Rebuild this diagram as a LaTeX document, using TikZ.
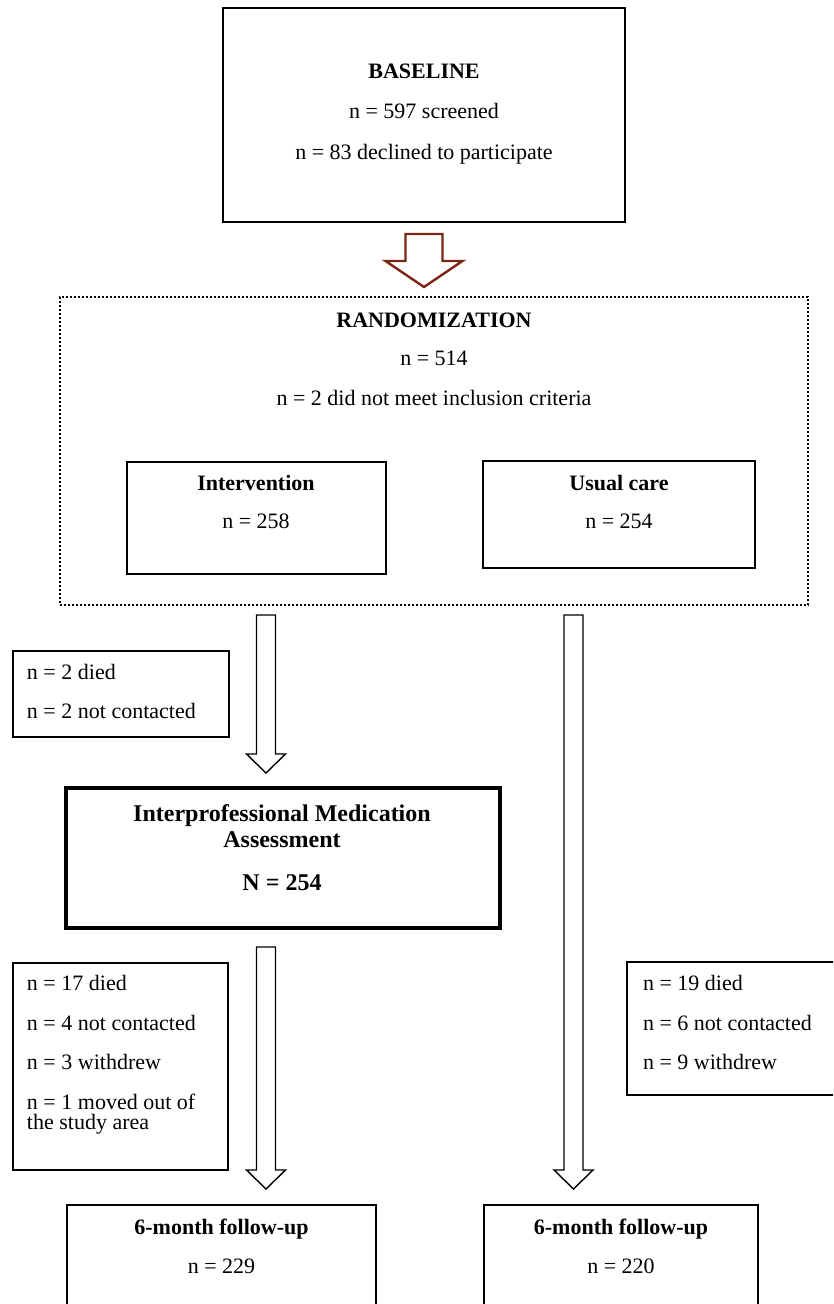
\documentclass[tikz,border=0pt]{standalone}
\usepackage{fontspec}
\setmainfont{Liberation Serif}
\definecolor{arrowbrown}{RGB}{122,38,22}
\newcommand{\blockarr}[7]{%
  \draw[#7] ({#1-#5},#2) -- ({#1+#5},#2) -- ({#1+#5},#3) -- ({#1+#6},#3)
    -- (#1,#4) -- ({#1-#6},#3) -- ({#1-#5},#3) -- cycle;}
\begin{document}
\begin{tikzpicture}[x=1pt,y=-1pt,
  every node/.style={font=\fontsize{22}{26}\selectfont, inner sep=0pt, outer sep=0pt},
  boxthick/.style={draw, line width=2.4pt, anchor=north west},
  boxmid/.style={draw, line width=1.8pt, anchor=north west},
  boxthin/.style={draw, line width=1.4pt, anchor=north west},
  boxima/.style={draw, line width=3.2pt, anchor=north west},
  dotbox/.style={draw, line width=1.8pt, dash pattern=on 1.8pt off 2.2pt, anchor=north west},
  ctext/.style={anchor=base},
  ltext/.style={anchor=base west},
  hollow/.style={draw=black, fill=white, line width=1.4pt, line join=miter},
  brownarr/.style={draw=arrowbrown, fill=white, line width=2.4pt, line join=miter}
]
\clip (0,0) rectangle (833,1304);
\fill[white] (0,0) rectangle (833,1304);

% BASELINE
\node[boxthick, minimum width=402pt, minimum height=214pt] (base) at (223,8) {};
\node[ctext] (baseT) at (424,78) {\textbf{BASELINE}};
\node[ctext] (baseA) at (424,118) {n = 597 screened};
\node[ctext] (baseB) at (424,159) {n = 83 declined to participate};

% brown arrow
\blockarr{424}{234}{261}{287}{18.5}{38.5}{brownarr}

% RANDOMIZATION
\node[dotbox, minimum width=748pt, minimum height=308pt] (rand) at (60,297) {};
\node[ctext] (randT) at (434,327) {\textbf{RANDOMIZATION}};
\node[ctext] (randA) at (434,365) {n = 514};
\node[ctext] (randB) at (434,405) {n = 2 did not meet inclusion criteria};

\node[boxmid, minimum width=259pt, minimum height=112pt] (interv) at (127,462) {};
\node[ctext] (intervT) at (256,490) {\textbf{Intervention}};
\node[ctext] (intervA) at (256,528) {n = 258};

\node[boxmid, minimum width=272pt, minimum height=107pt] (usual) at (483,461) {};
\node[ctext] (usualT) at (619,490) {\textbf{Usual care}};
\node[ctext] (usualA) at (619,528) {n = 254};

% arrows
\blockarr{266}{615}{754}{773}{9.5}{19.5}{hollow}
\blockarr{266}{947}{1170}{1189}{9.5}{19.5}{hollow}
\blockarr{573.5}{615}{1170}{1189}{9.5}{19.5}{hollow}

% side box 1
\node[boxthin, minimum width=216pt, minimum height=86pt] (side1) at (13,651) {};
\node[ltext] (side1A) at (27,679) {n = 2 died};
\node[ltext] (side1B) at (27,718) {n = 2 not contacted};

% IMA
\node[boxima, minimum width=434pt, minimum height=140pt] (ima) at (66,788) {};
\node[ctext, font=\fontsize{24}{25}\selectfont\bfseries] (imaT) at (282,821) {Interprofessional Medication};
\node[ctext, font=\fontsize{24}{25}\selectfont\bfseries] (imaT2) at (282,847) {Assessment};
\node[ctext, font=\fontsize{24}{25}\selectfont\bfseries] (imaN) at (282,890) {N = 254};

% side box 2
\node[boxthin, minimum width=215pt, minimum height=207pt] (side2) at (13,963) {};
\node[ltext] (side2A) at (27,990) {n = 17 died};
\node[ltext] (side2B) at (27,1030) {n = 4 not contacted};
\node[ltext] (side2C) at (27,1069) {n = 3 withdrew};
\node[ltext] (side2D) at (27,1109) {n = 1 moved out of};
\node[ltext] (side2E) at (27,1129) {the study area};

% side box 3
\node[boxthin, minimum width=230pt, minimum height=133pt] (side3) at (627,962) {};
\node[ltext] (side3A) at (643,990) {n = 19 died};
\node[ltext] (side3B) at (643,1030) {n = 6 not contacted};
\node[ltext] (side3C) at (643,1069) {n = 9 withdrew};

% follow-up boxes
\node[boxmid, minimum width=309pt, minimum height=140pt] (fu1) at (67,1205) {};
\node[ctext] (fu1T) at (221.5,1234) {\textbf{6-month follow-up}};
\node[ctext] (fu1A) at (221.5,1273) {n = 229};

\node[boxmid, minimum width=274pt, minimum height=140pt] (fu2) at (484,1205) {};
\node[ctext] (fu2T) at (621,1234) {\textbf{6-month follow-up}};
\node[ctext] (fu2A) at (621,1273) {n = 220};
\end{tikzpicture}
\end{document}
